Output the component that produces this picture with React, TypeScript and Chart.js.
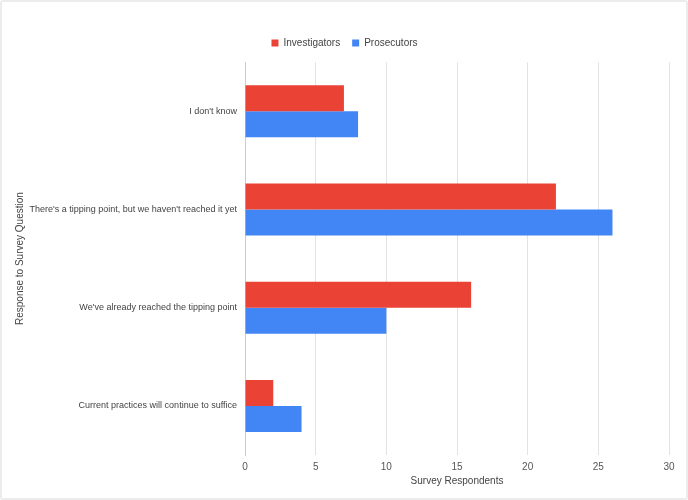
import React, { useEffect, useRef } from "react";
import { Chart, registerables } from "chart.js";

Chart.register(...registerables);

const categories = [
  "I don't know",
  "There's a tipping point, but we haven't reached it yet",
  "We've already reached the tipping point",
  "Current practices will continue to suffice",
];
const investigators = [7, 22, 16, 2];
const prosecutors = [8, 26, 10, 4];
const xTicks = [0, 5, 10, 15, 20, 25, 30];

const FONT = "'Liberation Sans', Arial, sans-serif";

export default function App() {
  const ref = useRef<HTMLCanvasElement>(null);
  useEffect(() => {
    if (!ref.current) return;
    const chart = new Chart(ref.current, {
      type: "bar",
      data: {
        labels: categories,
        datasets: [
          {
            label: "Investigators",
            data: investigators,
            backgroundColor: "#EA4335",
            borderWidth: 0,
            categoryPercentage: 0.53,
            barPercentage: 1,
          },
          {
            label: "Prosecutors",
            data: prosecutors,
            backgroundColor: "#4285F4",
            borderWidth: 0,
            categoryPercentage: 0.53,
            barPercentage: 1,
          },
        ],
      },
      options: {
        indexAxis: "y",
        animation: false,
        responsive: false,
        maintainAspectRatio: false,
        layout: { padding: { left: 18, right: 17, top: 24, bottom: 0 } },
        plugins: {
          legend: {
            position: "top",
            labels: {
              boxWidth: 7,
              boxHeight: 7,
              padding: 12,
              color: "#444",
              font: { family: FONT, size: 10 },
            },
          },
          subtitle: {
            display: true,
            text: "",
            weight: 500,
            position: "top",
            font: { size: 1 },
            padding: { top: 0, bottom: 3 },
          } as any,
          tooltip: { enabled: false },
        },
        scales: {
          x: {
            min: 0,
            max: 30,
            afterBuildTicks: (axis: any) => {
              axis.ticks = xTicks.map((v) => ({ value: v }));
            },
            afterFit: (axis: any) => {
              axis.height = 43;
            },
            grid: { color: "#e3e3e3", drawTicks: false },
            border: { display: false },
            ticks: {
              padding: 6,
              color: "#555",
              font: { family: FONT, size: 10 },
            },
            title: {
              display: true,
              text: "Survey Respondents",
              color: "#444",
              padding: { top: 2, bottom: 11 },
              font: { family: FONT, size: 10 },
            },
          },
          y: {
            afterFit: (axis: any) => {
              axis.width = 225;
            },
            grid: { display: false, drawTicks: false },
            border: { display: true, color: "#cccccc" },
            ticks: {
              padding: 8,
              color: "#444",
              font: { family: FONT, size: 9 },
            },
            title: {
              display: true,
              text: "Response to Survey Question",
              color: "#444",
              padding: { top: -6, bottom: 4 },
              font: { family: FONT, size: 10 },
            },
          },
        },
      },
    });
    return () => chart.destroy();
  }, []);
  return (
    <div
      style={{
        position: "fixed",
        left: 0,
        top: 0,
        width: 688,
        height: 500,
        boxSizing: "border-box",
        border: "2px solid #ececec",
        borderRadius: 3,
        background: "#fff",
      }}
    >
      <canvas ref={ref} width={684} height={496} style={{ display: "block" }} />
    </div>
  );
}
